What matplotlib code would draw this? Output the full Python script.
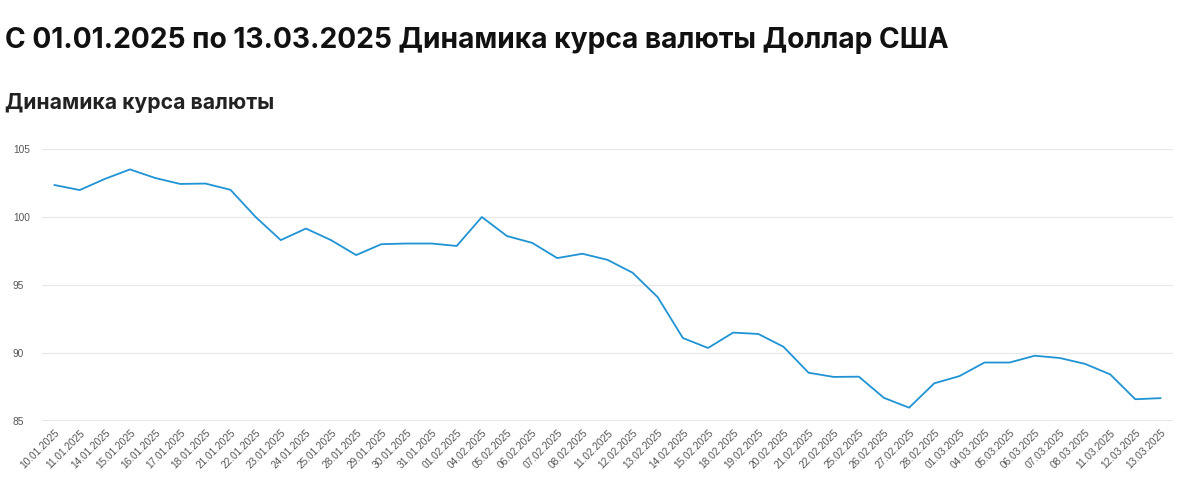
import matplotlib.pyplot as plt

plt.rcParams['font.family'] = ['Liberation Sans', 'DejaVu Sans']

dates = ["10.01.2025", "11.01.2025", "14.01.2025", "15.01.2025", "16.01.2025", "17.01.2025",
         "18.01.2025", "21.01.2025", "22.01.2025", "23.01.2025", "24.01.2025", "25.01.2025",
         "28.01.2025", "29.01.2025", "30.01.2025", "31.01.2025", "01.02.2025", "04.02.2025",
         "05.02.2025", "06.02.2025", "07.02.2025", "08.02.2025", "11.02.2025", "12.02.2025",
         "13.02.2025", "14.02.2025", "15.02.2025", "18.02.2025", "19.02.2025", "20.02.2025",
         "21.02.2025", "22.02.2025", "25.02.2025", "26.02.2025", "27.02.2025", "28.02.2025",
         "01.03.2025", "04.03.2025", "05.03.2025", "06.03.2025", "07.03.2025", "08.03.2025",
         "11.03.2025", "12.03.2025", "13.03.2025"]

rates = [102.35, 101.98, 102.8, 103.5, 102.87, 102.43, 102.46, 102.0, 100.0, 98.3,
         99.15, 98.3, 97.2, 98.0, 98.05, 98.05, 97.87, 100.0, 98.6, 98.1,
         96.98, 97.3, 96.85, 95.9, 94.1, 91.1, 90.37, 91.5, 91.4, 90.46,
         88.55, 88.24, 88.26, 86.7, 85.98, 87.77, 88.3, 89.3, 89.3, 89.8,
         89.63, 89.2, 88.43, 86.6, 86.68]

y_ticks = [85, 90, 95, 100, 105]

fig = plt.figure(figsize=(11.78, 5), dpi=100)
fig.text(5 / 1178, 1 - 40 / 500, "С 01.01.2025 по 13.03.2025 Динамика курса валюты Доллар США",
         fontsize=20.3, fontweight='bold', family=['Inter', 'DejaVu Sans'],
         color='#111111', va='center', ha='left')
fig.text(5 / 1178, 1 - 103 / 500, "Динамика курса валюты",
         fontsize=15.2, fontweight='bold', family=['Inter', 'DejaVu Sans'],
         color='#222222', va='center', ha='left')

ax = fig.add_axes([42 / 1178, 1 - 421 / 500, (1173 - 42) / 1178, (421 - 149) / 500])
x = list(range(len(dates)))
ax.plot(x, rates, color='#1f93d4', linewidth=1.3)

ax.set_xlim(-0.5, len(dates) - 0.5)
ax.set_ylim(85, 105)
ax.set_yticks(y_ticks)
ax.set_yticklabels([str(v) for v in y_ticks])
ax.set_xticks(x)
ax.set_xticklabels(dates, rotation=45, ha='right', va='top', rotation_mode='anchor')

for s in ax.spines.values():
    s.set_visible(False)
ax.grid(axis='y', color='#e8e8e8', linewidth=0.9)
ax.axhline(85, color='#dfe5ee', linewidth=1.2)
ax.set_axisbelow(True)

ax.tick_params(axis='x', length=0, pad=5, labelsize=7.3, labelcolor='#555555')
ax.tick_params(axis='y', length=0, pad=21, labelsize=7.3, labelcolor='#555555')
for lbl in ax.get_yticklabels():
    lbl.set_horizontalalignment('left')

fig.savefig('out.png', dpi=100)
